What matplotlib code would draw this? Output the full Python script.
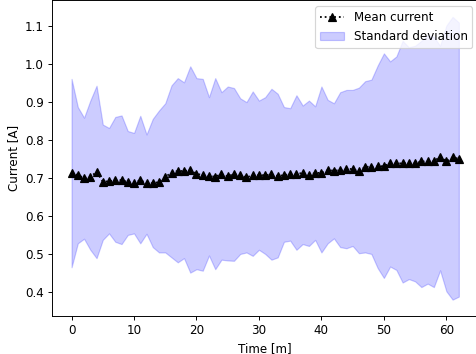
import numpy as np
import matplotlib
matplotlib.use("Agg")
import matplotlib.pyplot as plt

# time in minutes, one sample per minute
time_m = np.arange(63)

mean_current = [
    0.714, 0.707, 0.700, 0.702, 0.716, 0.690, 0.691, 0.694, 0.694, 0.689,
    0.686, 0.694, 0.686, 0.686, 0.689, 0.702, 0.714, 0.718, 0.718, 0.720,
    0.711, 0.707, 0.705, 0.703, 0.710, 0.704, 0.710, 0.707, 0.701, 0.707,
    0.707, 0.707, 0.709, 0.705, 0.707, 0.710, 0.710, 0.713, 0.707, 0.713,
    0.713, 0.720, 0.719, 0.720, 0.724, 0.723, 0.717, 0.729, 0.729, 0.730,
    0.731, 0.738, 0.738, 0.738, 0.738, 0.738, 0.743, 0.743, 0.743, 0.756,
    0.743, 0.754, 0.750,
]

upper = [
    0.960, 0.886, 0.858, 0.903, 0.942, 0.840, 0.831, 0.860, 0.864, 0.823,
    0.818, 0.863, 0.814, 0.855, 0.877, 0.896, 0.943, 0.962, 0.951, 0.993,
    0.962, 0.960, 0.912, 0.962, 0.925, 0.940, 0.936, 0.909, 0.899, 0.927,
    0.903, 0.912, 0.934, 0.921, 0.886, 0.883, 0.917, 0.890, 0.903, 0.888,
    0.940, 0.905, 0.896, 0.925, 0.931, 0.931, 0.937, 0.954, 0.958, 0.995,
    1.027, 1.006, 1.019, 1.060, 1.043, 1.047, 1.060, 1.075, 1.070, 1.047,
    1.100, 1.123, 1.108,
]

lower = [
    0.465, 0.528, 0.540, 0.511, 0.489, 0.537, 0.554, 0.532, 0.526, 0.550,
    0.554, 0.528, 0.553, 0.518, 0.504, 0.504, 0.491, 0.478, 0.489, 0.451,
    0.460, 0.456, 0.496, 0.460, 0.485, 0.483, 0.482, 0.500, 0.504, 0.495,
    0.511, 0.500, 0.485, 0.491, 0.532, 0.535, 0.511, 0.526, 0.521, 0.537,
    0.504, 0.528, 0.541, 0.518, 0.515, 0.521, 0.502, 0.504, 0.500, 0.463,
    0.437, 0.467, 0.458, 0.425, 0.434, 0.428, 0.413, 0.422, 0.413, 0.457,
    0.402, 0.380, 0.388,
]

dpi = 85.6
fig = plt.figure(figsize=(476.01 / dpi, 354.01 / dpi), dpi=dpi)
ax = fig.add_axes([52.2 / 476, 38 / 354, 426 / 476, 315.5 / 354])

ax.plot(time_m, mean_current, 'k:^', label='Mean current')
ax.fill_between(time_m, lower, upper, color='blue', alpha=0.2,
                label='Standard deviation')

ax.set_ylim(0.337, 1.166)
ax.set_xlabel('Time [m]')
ax.set_ylabel('Current [A]')
ax.legend(loc='upper right')

fig.savefig('out.png', dpi=dpi)
